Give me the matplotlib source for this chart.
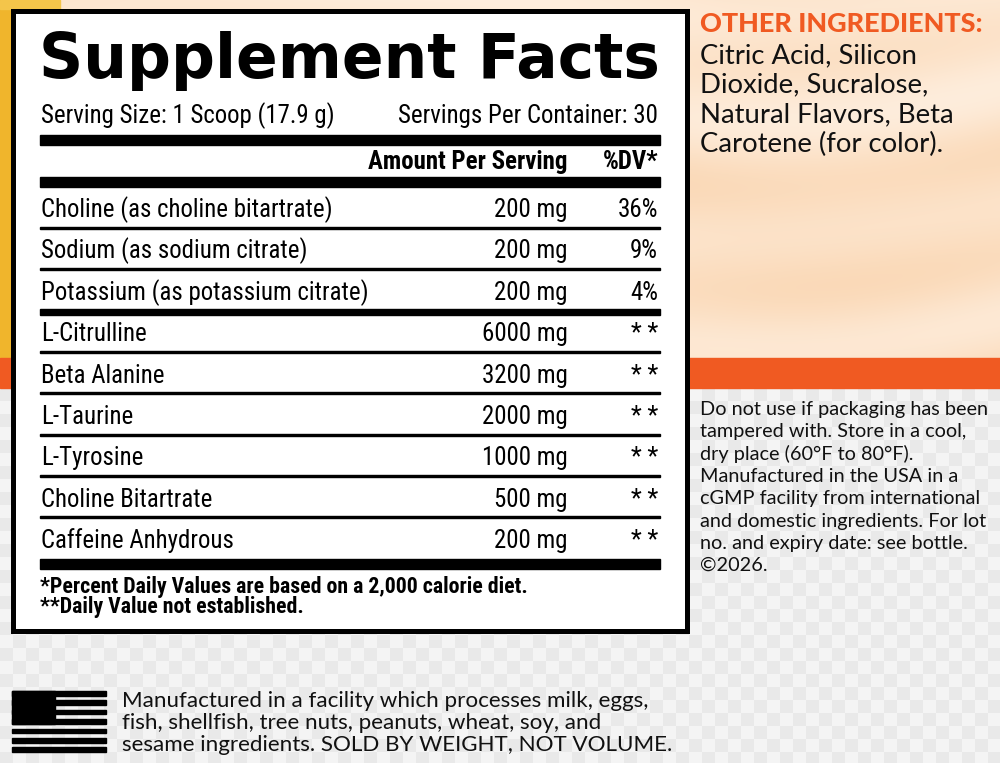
import numpy as np
import matplotlib

matplotlib.use("Agg")
from matplotlib import font_manager as fm
from matplotlib import pyplot as plt
from matplotlib.patches import Rectangle

# ---- label content ----
title = "Supplement Facts"
serving_size = "Serving Size: 1 Scoop (17.9 g)"
servings_per = "Servings Per Container: 30"
header_amount = "Amount Per Serving"
header_dv = "%DV*"

ingredients = [
    "Choline (as choline bitartrate)",
    "Sodium (as sodium citrate)",
    "Potassium (as potassium citrate)",
    "L-Citrulline",
    "Beta Alanine",
    "L-Taurine",
    "L-Tyrosine",
    "Choline Bitartrate",
    "Caffeine Anhydrous",
]
amounts_mg = [200, 200, 200, 6000, 3200, 2000, 1000, 500, 200]
daily_values = ["36%", "9%", "4%", "* *", "* *", "* *", "* *", "* *", "* *"]
# rows after which a heavy rule is drawn instead of a thin one
heavy_after = [2]

footnotes = [
    "*Percent Daily Values are based on a 2,000 calorie diet.",
    "**Daily Value not established.",
]

other_title = "OTHER INGREDIENTS:"
other_lines = [
    "Citric Acid, Silicon",
    "Dioxide, Sucralose,",
    "Natural Flavors, Beta",
    "Carotene (for color).",
]
storage_lines = [
    "Do not use if packaging has been",
    "tampered with. Store in a cool,",
    "dry place (60°F to 80°F).",
    "Manufactured in the USA in a",
    "cGMP facility from international",
    "and domestic ingredients. For lot",
    "no. and expiry date: see bottle.",
    "©2026.",
]
allergen_lines = [
    "Manufactured in a facility which processes milk, eggs,",
    "fish, shellfish, tree nuts, peanuts, wheat, soy, and",
    "sesame ingredients. SOLD BY WEIGHT, NOT VOLUME.",
]

# ---- fonts ----
installed = {f.name for f in fm.fontManager.ttflist}


def pick(*cands):
    for c in cands:
        if c in installed:
            return c
    return "DejaVu Sans"


NARROW = pick("Liberation Sans Narrow", "Roboto Condensed", "DejaVu Sans Condensed", "Roboto")
HEAVY = "DejaVu Sans"
SANS = pick("Lato", "Open Sans", "DejaVu Sans")
ORANGE = "#f05a22"

W, H = 1000, 763
fig = plt.figure(figsize=(W / 100, H / 100), dpi=100)
ax = fig.add_axes([0, 0, 1, 1])
ax.set_xlim(0, W)
ax.set_ylim(H, 0)
ax.axis("off")

# ---- backgrounds ----
band_top, band_bot = 358, 388
yy, xx = np.mgrid[0:band_top, 0:W]
wave = np.sin(yy / 18.0 + 1.6 * np.sin(xx / 170.0) + xx / 300.0)
wave2 = np.sin(yy / 40.0 - 1.2 * np.sin(xx / 120.0 + 1.0))
light = np.array([1.0, 0.95, 0.90])
warm = np.array([0.98, 0.84, 0.70])
mix = np.clip(0.55 + 0.18 * wave + 0.15 * wave2 - 0.25 * yy / band_top, 0, 1)[..., None]
peach = light * mix + warm * (1 - mix)
ax.imshow(peach, extent=(0, W, band_top, 0), aspect="auto", zorder=0)

ax.add_patch(Rectangle((0, 0), 11, band_top, color="#f0b52c", zorder=0.5))
ax.add_patch(Rectangle((0, 0), 60, 9, color="#f4c54a", zorder=0.5))

cy, cx = np.mgrid[0:H - band_bot, 0:W]
block = 13
check = ((cy // block + cx // block) % 2).astype(float)
shade = 0.915 + 0.045 * check
gray = np.dstack([shade, shade, shade])
ax.imshow(gray, extent=(0, W, H, band_bot), aspect="auto", zorder=0)
ax.add_patch(Rectangle((0, band_top), W, band_bot - band_top, color=ORANGE, zorder=0.5))

# ---- facts box ----
ax.add_patch(Rectangle((12.5, 10.5), 674, 620, facecolor="white",
                       edgecolor="black", linewidth=5 * 0.72, zorder=1))

LEFT, AMT_R, DV_R, RIGHT = 40, 568, 658, 660


def rule(y0, y1):
    ax.add_patch(Rectangle((LEFT, y0), RIGHT - LEFT, y1 - y0, color="black", zorder=2))


def fit(t, width):
    r = fig.canvas.get_renderer()
    bb = t.get_window_extent(r)
    t.set_fontsize(t.get_fontsize() * width / bb.width)
    return t.get_fontsize()


t = ax.text(LEFT - 1, 78, title, family=HEAVY, weight="heavy", fontsize=45,
            va="baseline", ha="left", zorder=3)
fit(t, RIGHT - LEFT + 2)

t = ax.text(LEFT + 1, 123, serving_size, family=NARROW, fontsize=16,
            va="baseline", zorder=3)
row_fs = fit(t, 294)
ax.text(DV_R, 123, servings_per, family=NARROW, fontsize=row_fs,
        va="baseline", ha="right", zorder=3)
rule(135, 145)
ax.text(AMT_R, 169, header_amount, family=NARROW, weight="bold", fontsize=row_fs,
        va="baseline", ha="right", zorder=3)
ax.text(DV_R, 169, header_dv, family=NARROW, weight="bold", fontsize=row_fs,
        va="baseline", ha="right", zorder=3)
rule(177, 187)

row0, step = 217, 41.4
for i, (name, mg, dv) in enumerate(zip(ingredients, amounts_mg, daily_values)):
    base = row0 + i * step
    ax.text(LEFT + 1, base, name, family=NARROW, fontsize=row_fs,
            va="baseline", zorder=3)
    ax.text(AMT_R, base, f"{mg} mg", family=NARROW, fontsize=row_fs,
            va="baseline", ha="right", zorder=3)
    ax.text(DV_R, base, dv, family=NARROW, fontsize=row_fs,
            va="baseline", ha="right", zorder=3)
    if i == len(ingredients) - 1:
        rule(base + 11, base + 21)
    elif i in heavy_after:
        rule(base + 9, base + 15)
    else:
        rule(base + 9.5, base + 11.5)

t = ax.text(LEFT, 593, footnotes[0], family=NARROW, weight="bold", fontsize=14,
            va="baseline", zorder=3)
foot_fs = fit(t, 490)
ax.text(LEFT, 613, footnotes[1], family=NARROW, weight="bold", fontsize=foot_fs,
        va="baseline", zorder=3)

# ---- right column ----
RX = 700
t = ax.text(RX, 32, other_title, family=SANS, weight="black", color=ORANGE,
            fontsize=16, va="baseline", zorder=3)
fit(t, 285)
other_texts = []
for i, line in enumerate(other_lines):
    other_texts.append(ax.text(RX, 63 + i * 29.7, line, family=SANS, fontsize=18,
                               va="baseline", color="#111111", zorder=3))
other_fs = fit(other_texts[2], 253)
for tt in other_texts:
    tt.set_fontsize(other_fs)

store_texts = []
for i, line in enumerate(storage_lines):
    store_texts.append(ax.text(RX, 415 + i * 22.3, line, family=SANS, fontsize=13,
                               va="baseline", color="#111111", zorder=3))
store_fs = fit(store_texts[4], 279)
for tt in store_texts:
    tt.set_fontsize(store_fs)

# ---- allergen block with flag ----
fx0, fx1, fy0, fy1 = 12, 106, 691, 752
stripe_h = (fy1 - fy0) / 13
for k in range(0, 13, 2):
    ax.add_patch(Rectangle((fx0, fy0 + k * stripe_h), fx1 - fx0, stripe_h,
                           color="black", zorder=2))
ax.add_patch(Rectangle((fx0, fy0), 43, 7 * stripe_h, color="black", zorder=2))

al_texts = []
for i, line in enumerate(allergen_lines):
    al_texts.append(ax.text(122, 707 + i * 22, line, family=SANS, fontsize=14,
                            va="baseline", color="#111111", zorder=3))
al_fs = fit(al_texts[0], 526)
for tt in al_texts:
    tt.set_fontsize(al_fs)

fig.savefig("out.png", dpi=100)
